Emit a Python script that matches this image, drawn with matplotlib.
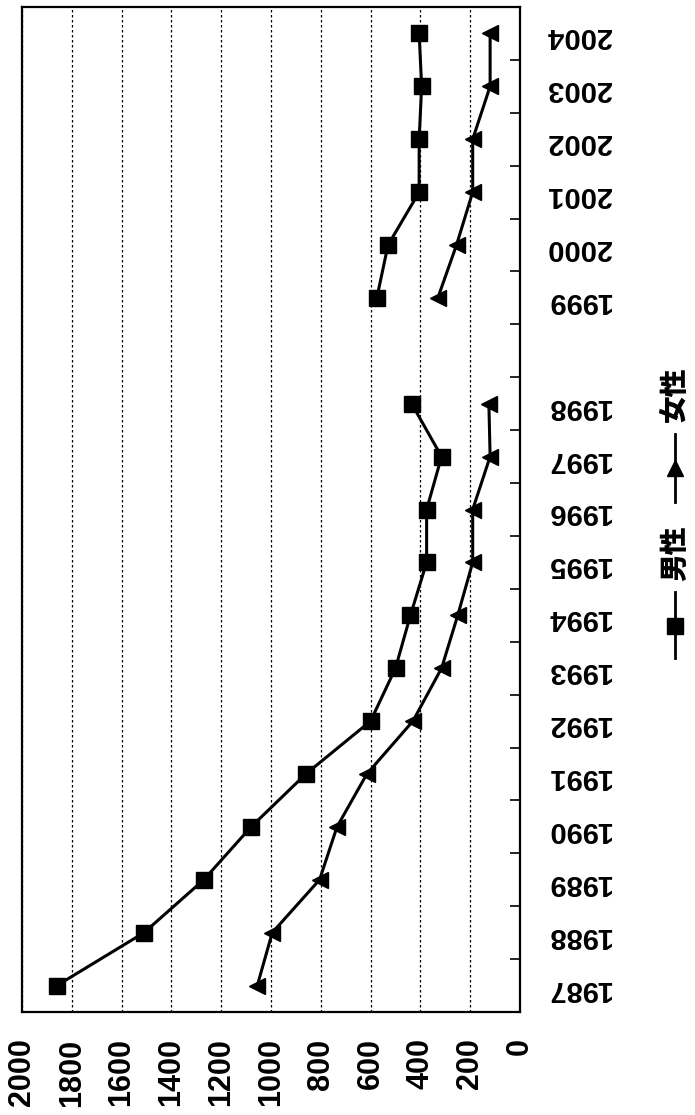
import numpy as np
import matplotlib.pyplot as plt
from matplotlib.lines import Line2D

# 年別の件数（男性・女性）
years = ['1987', '1988', '1989', '1990', '1991', '1992', '1993', '1994', '1995',
         '1996', '1997', '1998', '', '1999', '2000', '2001', '2002', '2003', '2004']
male = [1860, 1510, 1270, 1080, 860, 600, 500, 440, 375,
        375, 315, 435, np.nan, 575, 530, 405, 405, 395, 405]
female = [1055, 995, 805, 735, 615, 430, 315, 250, 190,
          190, 120, 125, np.nan, 330, 255, 190, 190, 120, 120]
value_ticks = [0, 200, 400, 600, 800, 1000, 1200, 1400, 1600, 1800, 2000]

W, H = 695, 1115
fig = plt.figure(figsize=(W / 100, H / 100), dpi=100)
ax = fig.add_axes([22 / W, (H - 1012) / H, (520 - 22) / W, (1012 - 7) / H])

pos = np.arange(len(years))
ax.plot(male, pos, color='black', lw=2.2, marker='s', markersize=11,
        markerfacecolor='black', markeredgecolor='black')
ax.plot(female, pos, color='black', lw=2.2, marker='<', markersize=12,
        markerfacecolor='black', markeredgecolor='black')

ax.set_xlim(2000, 0)
ax.set_ylim(-0.5, len(years) - 0.5)

ax.set_xticks(value_ticks)
ax.set_xticklabels([str(v) for v in value_ticks], rotation=90,
                   fontfamily='Liberation Sans', fontweight='bold', fontsize=22)
ax.tick_params(axis='x', length=0, pad=19)
ax.grid(axis='x', color='black', linestyle=(0, (2, 2)), lw=0.9)

ax.yaxis.tick_right()
ax.set_yticks(pos)
ax.set_yticklabels(years, rotation=180,
                   fontfamily='Liberation Sans', fontweight='bold', fontsize=21)
ax.tick_params(axis='y', which='major', length=0, pad=19)
ax.set_yticks(np.arange(0.5, len(years) - 1, 1), minor=True)
ax.tick_params(axis='y', which='minor', direction='in', length=7, width=1.2, right=True, left=False)

for s in ax.spines.values():
    s.set_color('black')
    s.set_linewidth(1.6)

# 凡例（縦書き）
lx = 675 / W
def fy(y):
    return (H - y) / H

fig.add_artist(Line2D([lx, lx], [fy(658), fy(592)], transform=fig.transFigure,
                      color='black', lw=2))
fig.add_artist(Line2D([lx], [fy(626)], transform=fig.transFigure, marker='s',
                      markersize=11, color='black'))
fig.text(lx, fy(553), '男性', rotation=90, ha='center', va='center',
         fontfamily=['Noto Sans CJK JP', 'DejaVu Sans'], fontweight='heavy', fontsize=20)
fig.add_artist(Line2D([lx, lx], [fy(502), fy(434)], transform=fig.transFigure,
                      color='black', lw=2))
fig.add_artist(Line2D([lx], [fy(468)], transform=fig.transFigure, marker='^',
                      markersize=11, color='black'))
fig.text(lx, fy(394), '女性', rotation=90, ha='center', va='center',
         fontfamily=['Noto Sans CJK JP', 'DejaVu Sans'], fontweight='heavy', fontsize=20)

fig.savefig('out.png', dpi=100)
